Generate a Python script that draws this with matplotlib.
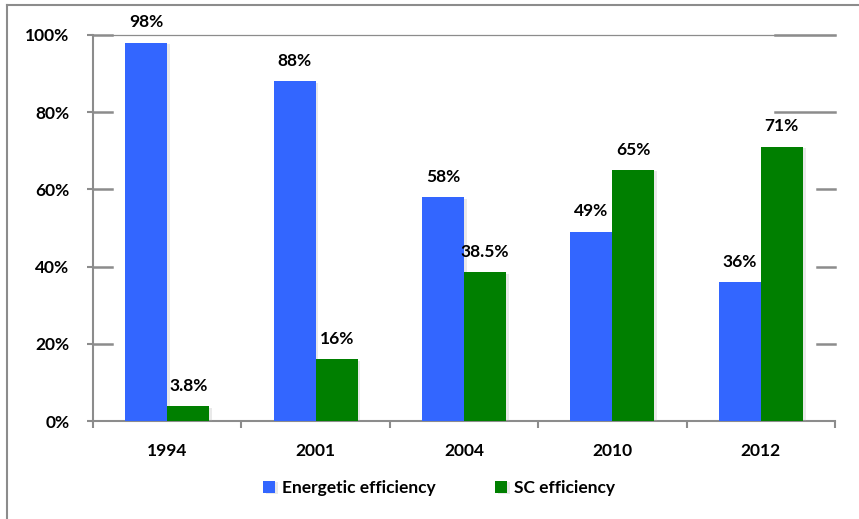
import numpy as np
import matplotlib
matplotlib.use('Agg')
import matplotlib.pyplot as plt
import matplotlib.patheffects as pe
from matplotlib.lines import Line2D

years = ['1994', '2001', '2004', '2010', '2012']
energetic = [98, 88, 58, 49, 36]
sc = [3.8, 16, 38.5, 65, 71]
energetic_labels = ['98%', '88%', '58%', '49%', '36%']
sc_labels = ['3.8%', '16%', '38.5%', '65%', '71%']

blue = '#3366ff'
green = '#007f00'
gray = '#8c8c8c'

plt.rcParams['font.family'] = ['Lato', 'DejaVu Sans']
plt.rcParams['font.weight'] = 'bold'
fs = 12.5

fig = plt.figure(figsize=(8.59, 5.19), dpi=100)
ax = fig.add_axes([0.1083, 0.1888, 0.972 - 0.1083, 0.9326 - 0.1888])

x = np.arange(len(years))
w = 0.283
shadow = [pe.SimplePatchShadow(offset=(2, -1), shadow_rgbFace='#aaaaaa', alpha=0.25), pe.Normal()]
b1 = ax.bar(x - w / 2, energetic, w, color=blue, label='Energetic efficiency', zorder=3)
b2 = ax.bar(x + w / 2, sc, w, color=green, label='SC efficiency', zorder=3)
for b in list(b1) + list(b2):
    b.set_path_effects(shadow)

for bars, labs in ((b1, energetic_labels), (b2, sc_labels)):
    for b, lab in zip(bars, labs):
        ax.annotate(lab, (b.get_x() + b.get_width() / 2, b.get_height()),
                    xytext=(0, 9), textcoords='offset points',
                    ha='center', va='bottom', fontsize=fs, fontweight='bold')

ax.set_xlim(-0.5, len(years) - 0.5)
ax.set_ylim(0, 100)
ax.set_yticks([0, 20, 40, 60, 80, 100])
ax.set_yticklabels([f'{v}%' for v in [0, 20, 40, 60, 80, 100]])
ax.set_xticks(x)
ax.set_xticklabels(years)
ax.set_xticks(np.arange(-0.5, len(years)), minor=True)
ax.tick_params(axis='x', which='major', length=0, pad=16, labelsize=fs)
ax.tick_params(axis='x', which='minor', length=5, width=1.5, color=gray, direction='out')
ax.tick_params(axis='y', length=4, width=1.5, color=gray, pad=13, labelsize=fs)

for s in ['top', 'right']:
    ax.spines[s].set_visible(False)
for s in ['left', 'bottom']:
    ax.spines[s].set_color(gray)
    ax.spines[s].set_linewidth(1.5)

# gridline stubs (left and right) like the original
tr = ax.get_yaxis_transform()
for v in [20, 40, 60, 80, 100]:
    ax.plot([0, 0.025], [v, v], transform=tr, color=gray, lw=1.8, zorder=2, clip_on=False)
    start = 0.919 if v >= 80 else 0.976
    ax.plot([start, 1.0], [v, v], transform=tr, color=gray, lw=1.8, zorder=2, clip_on=False)
ax.plot([0.025, 1.0], [100, 100], transform=tr, color=gray, lw=0.9, zorder=2, clip_on=False)

# outer frame (left and top)
fig.add_artist(Line2D([7 / 859, 7 / 859], [0, 1 - 5 / 519], color=gray, lw=1.5))
fig.add_artist(Line2D([7 / 859, 1], [1 - 5 / 519, 1 - 5 / 519], color=gray, lw=1.5))

fig.legend(loc='center', bbox_to_anchor=(0.511, 0.06), ncol=2, frameon=False,
           fontsize=fs, handlelength=0.7, handleheight=0.7, handletextpad=0.4,
           columnspacing=3.4)

fig.savefig('out.png', dpi=100)
